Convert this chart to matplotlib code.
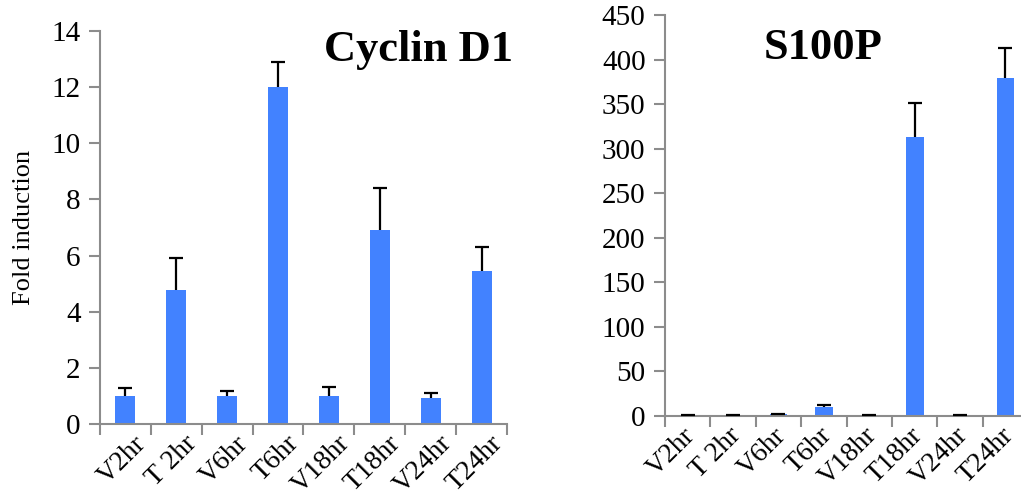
import numpy as np
import matplotlib.pyplot as plt
from matplotlib.transforms import ScaledTranslation

plt.rcParams['font.family'] = ['Liberation Serif', 'DejaVu Serif']

samples = ["V2hr", "T 2hr", "V6hr", "T6hr", "V18hr", "T18hr", "V24hr", "T24hr"]

cyclin_mean = [1.0, 4.77, 1.0, 12.0, 1.0, 6.91, 0.92, 5.45]
cyclin_err = [0.27, 1.16, 0.17, 0.89, 0.33, 1.50, 0.20, 0.86]

s100p_mean = [1.0, 1.0, 2.0, 10.5, 1.0, 313.0, 1.0, 379.0]
s100p_err = [0.3, 0.3, 0.5, 1.8, 0.3, 38.0, 0.3, 33.5]

bar_color = '#4282FF'
axis_gray = '#8c8c8c'
fsize = 21

fig = plt.figure(figsize=(10.21, 5.04), dpi=100)
ax1 = fig.add_axes([0.0979, 0.1587, 0.3987, 0.7798])
ax2 = fig.add_axes([0.6513, 0.1746, 0.3557, 0.7956])


def draw_panel(ax, mean, err, ymax, ystep, title, title_xy, title_ha, lbl_shift):
    x = np.arange(len(samples))
    ax.bar(x, mean, width=0.39, color=bar_color, zorder=2)
    _, caps, _ = ax.errorbar(x, mean, yerr=[np.zeros(len(err)), err], fmt='none',
                             ecolor='black', elinewidth=1.6, capsize=5,
                             capthick=1.6, zorder=3)
    # only the upper whisker gets a cap
    caps[0].set_visible(False)
    ax.set_xlim(-0.5, len(samples) - 0.5)
    ax.set_ylim(0, ymax)
    ax.set_yticks(np.arange(0, ymax + 1, ystep))
    ax.set_xticks(x)
    ax.set_xticklabels(samples, rotation=45, ha='right', rotation_mode='anchor',
                       fontsize=20)
    ax.set_xticks(np.arange(-0.5, len(samples)), minor=True)
    ax.tick_params(axis='x', which='major', length=0, pad=5)
    ax.tick_params(axis='x', which='minor', length=8, width=1.5, color=axis_gray)
    ax.tick_params(axis='y', length=8, width=1.5, color=axis_gray, labelsize=fsize, pad=6)
    # nudge the slanted labels sideways (after tick_params, which resets transforms)
    shift = ScaledTranslation(lbl_shift / 72, 0, fig.dpi_scale_trans)
    for lbl in ax.get_xticklabels():
        lbl.set_transform(lbl.get_transform() + shift)
    for side in ['top', 'right']:
        ax.spines[side].set_visible(False)
    for side in ['left', 'bottom']:
        ax.spines[side].set_color(axis_gray)
        ax.spines[side].set_linewidth(1.5)
    ax.text(title_xy[0], title_xy[1], title, transform=fig.transFigure,
            fontsize=32, fontweight='bold', ha=title_ha, va='center')


draw_panel(ax1, cyclin_mean, cyclin_err, 14, 2, "Cyclin D1", (0.502, 0.9), 'right', 6)
ax1.set_ylabel("Fold induction", fontsize=19, labelpad=12)

draw_panel(ax2, s100p_mean, s100p_err, 450, 50, "S100P", (0.806, 0.905), 'center', -3.6)

fig.savefig("out.png", dpi=100)
